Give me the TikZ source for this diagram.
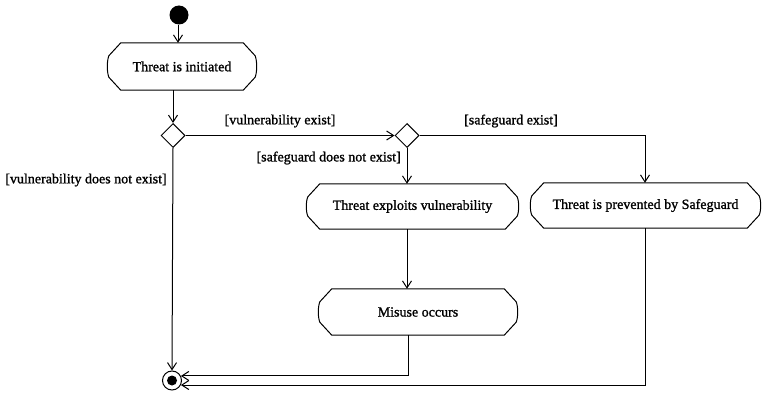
\documentclass[tikz,border=0pt]{standalone}
\usepackage{fontspec}
\setmainfont{Liberation Serif}
\newfontfamily\diagfont[FakeBold=1.2]{Liberation Serif}
\usetikzlibrary{arrows.meta,calc,shapes.geometric}

% outline of an activity box: chamfered corners with slightly bulging sides
\newcommand{\actionoutline}[1]{%
  \draw[flow]
    ($(#1.north west)+(14,0)$) -- ($(#1.north east)+(-14,0)$)
    -- ($(#1.north east)+(-2,13)$)
    .. controls ($(#1.east)+(0,-5)$) and ($(#1.east)+(0,5)$) .. ($(#1.south east)+(-2,-13)$)
    -- ($(#1.south east)+(-14,0)$) -- ($(#1.south west)+(14,0)$)
    -- ($(#1.south west)+(2,-13)$)
    .. controls ($(#1.west)+(0,5)$) and ($(#1.west)+(0,-5)$) .. ($(#1.north west)+(2,13)$)
    -- cycle;}

\begin{document}
\begin{tikzpicture}[x=1pt,y=-1pt,
  flow/.style={line width=1pt},
  edge/.style={flow,-{Straight Barb[length=7pt,width=9pt]}},
  action/.style={inner sep=0pt,font=\diagfont\fontsize{14}{16}\selectfont},
  guard/.style={inner sep=0pt,font=\diagfont\fontsize{14}{16}\selectfont},
  decision/.style={flow,draw,fill=white,diamond,minimum size=24pt,inner sep=0pt,shape aspect=1},
]
\useasboundingbox (0,0) rectangle (764,393);

% initial and final nodes
\node[circle,fill=black,minimum size=19pt,inner sep=0pt] (start) at (179,15) {};
\node[circle,draw,line width=1pt,fill=white,minimum size=19pt,inner sep=0pt] (final) at (172,380.5) {};
\fill (final) circle (5pt);

% activities
\node[action,minimum width=150pt,minimum height=47pt] (init) at (182,66.5) {Threat is initiated};
\node[action,minimum width=213pt,minimum height=45pt] (exploit) at (412.5,206.5) {Threat exploits vulnerability};
\node[action,minimum width=231pt,minimum height=45pt] (prevent) at (645.5,205.5) {Threat is prevented by Safeguard};
\node[action,minimum width=200pt,minimum height=46pt] (misuse) at (418,312) {Misuse occurs};
\actionoutline{init}
\actionoutline{exploit}
\actionoutline{prevent}
\actionoutline{misuse}

% decisions
\node[decision] (d1) at (173,135.5) {};
\node[decision] (d2) at (407,135.5) {};

% guard labels
\node[guard] (gve) at (280,121) {[vulnerability exist]};
\node[guard,anchor=east] (gsn) at (401,158) {[safeguard does not exist]};
\node[guard] (gse) at (511,121) {[safeguard exist]};
\node[guard] (gvn) at (86,180) {[vulnerability does not exist]};

% control flows
\coordinate (colS) at (178,0);
\coordinate (colP) at (645,0);
\coordinate (colM) at (408,0);
\draw[edge] (start.south -| colS) -- (init.north -| colS);
\draw[edge] (init.south -| d1) -- (d1.north);
\draw[edge] (d1.east) -- (d2.west);
\draw[edge] (d2.south) -- (exploit.north -| d2);
\draw[edge] (d2.east) -| (prevent.north -| colP);
\draw[edge] (exploit.south -| d2) -- (misuse.north -| d2);
\draw[edge] (d1.south) -- (final.north);
\draw[edge] (misuse.south -| colM) |- (final.27);
\draw[edge] (prevent.south -| colP) |- (final.-27);
\end{tikzpicture}
\end{document}
